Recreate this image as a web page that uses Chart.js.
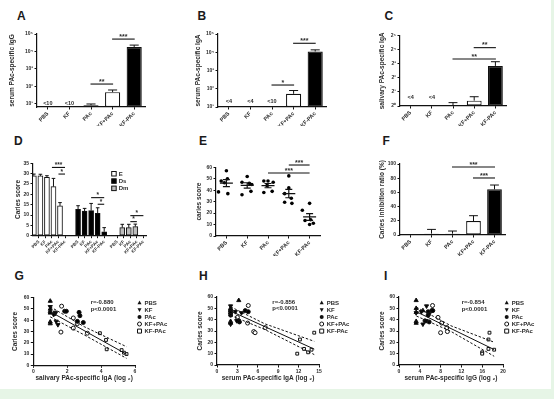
<!DOCTYPE html>
<html><head><meta charset="utf-8">
<script src="https://cdn.jsdelivr.net/npm/chart.js@4.4.1/dist/chart.umd.min.js"></script>
<style>
html,body{margin:0;padding:0;}
body{background:#e6f5e6;width:554px;height:399px;overflow:hidden;}
#wrap{position:relative;width:551px;height:389px;background:#fff;overflow:hidden;}
#wrap canvas{position:absolute;}
.lt{position:absolute;font:bold 12px "Liberation Sans",Arial,sans-serif;color:#1a1a1a;line-height:12px;}
</style></head><body><div id="wrap">
<div class="lt" style="left:17px;top:10px">A</div>
<div class="lt" style="left:197.5px;top:10px">B</div>
<div class="lt" style="left:384.5px;top:10px">C</div>
<div class="lt" style="left:14px;top:135px">D</div>
<div class="lt" style="left:199px;top:135px">E</div>
<div class="lt" style="left:382.5px;top:135px">F</div>
<div class="lt" style="left:14.5px;top:270px">G</div>
<div class="lt" style="left:199px;top:270px">H</div>
<div class="lt" style="left:384px;top:270px">I</div>
</div>
<script>
// ---------------- data ----------------
const groups = ['PBS','KF','PAc','KF+PAc','KF-PAc'];
const barFill = ['#fff','#fff','#fff','#fff','#000'];

const serumIgG = [null,null,8,45,18000];
const serumIgGErr = [0,0,1.4,15,5000];
const serumIgGNote = ['<10','<10','','',''];
const serumIgA = [null,null,null,53,11000];
const serumIgAErr = [0,0,0,27,2500];
const serumIgANote = ['<4','<4','<10','',''];
const salivaryIgALog2 = [null,null,0,0.38,2.85];
const salivaryIgAErr = [0,0,0.24,0.28,0.3];
const salivaryIgANote = ['<4','<4','','',''];

const log10Ticks = [10,100,1000,10000,100000];
const log10TickLabels = ['10\u00b9','10\u00b2','10\u00b3','10\u2074','10\u2075'];
const log2TickLabels = ['2\u2070','2\u00b9','2\u00b2','2\u00b3','2\u2074','2\u2075'];

const sigA = [{a:2,b:3,y:132,t:'**'},{a:3,b:4,y:51000,t:'***'}];
const sigB = [{a:2,b:3,y:160,t:'*'},{a:3,b:4,y:31000,t:'***'}];
const sigC = [{a:2,b:4,y:3.34,t:'**'},{a:3,b:4,y:4.15,t:'**'}];

// D: caries scores by type
const scoreE = [29,28.9,28.2,23.7,14.4];
const scoreEErr = [0.8,0.8,0.8,4,1.6];
const scoreDs = [12.7,11.9,12.1,10.8,1.9];
const scoreDsErr = [1.8,1.3,3.5,2.7,2];
const scoreDm = [3.9,3.9,4.4,0,0];
const scoreDmErr = [1.6,1.6,1.2,0,0];
const slotsE = [0,1,2,3,4], slotsDs = [6,7,8,9,10], slotsDm = [12,13,14,15,16];
const sigD = [{a:2,b:4,y:33,t:'***'},{a:3,b:4,y:29.8,t:'*'},{a:8,b:10,y:18.4,t:'*'},{a:9,b:10,y:15.2,t:'*'},{a:14,b:16,y:9.7,t:'*'},{a:14,b:15,y:6.8,t:'*'}];

// E: individual caries scores
const cariesPBS = [57,50,48,46.5,38.5,37];
const cariesKF = [52,47,46,45,39,36];
const cariesPAc = [48,48,47,44,38,39];
const cariesKFpPAc = [52.5,42,37,33,29.5,28.5];
const cariesKFmPAc = [28.5,22.5,14.2,13.5,11.2,10];
const jitterPBS = [0,0.05,-0.25,-0.1,-0.38,0.07];
const jitterKF = [0,-0.25,0.1,0.22,0.18,-0.25];
const jitterPAc = [-0.2,0,0.25,-0.05,-0.2,0.2];
const jitterKFpPAc = [0,0,-0.2,0.12,-0.2,0.15];
const jitterKFmPAc = [0,-0.35,0.05,-0.22,0.18,0];
const sigE = [{a:2,b:4,y:55,t:'***'},{a:3,b:4,y:62,t:'***'}];

// F
const inhibition = [0,1.9,1.9,19.7,64.3];
const inhibitionErr = [0,6,3.7,7.5,6.1];
const sigF = [{a:2,b:4,y:95.8,t:'***'},{a:3,b:4,y:80.3,t:'***'}];

// G: salivary IgA (log2)
const salPBS = [1,1,1,1,1,1];
const salKF = [1,1.3,1.3,1.2,1.35,1.45];
const salPAc = [1.85,1.95,2.7,2.75,2.95,2.6];
const salKFpPAc = [1.67,2.36,2.6,2.36,1.63,3.19];
const salKFmPAc = [3.93,4.29,4.33,5.21,5.35,5.5];
const fitGx = [1,5.5], fitGy = [47.6,9.8];
const bandGx = [1,3,5.5], bandGhi = [52,34.3,16.5], bandGlo = [43,27,6.2];
const statsG = ['r=-0.880','p<0.0001'];

// H: serum IgA (log2)
const sIgAPBS = [3.2,2,2,2,2,2];
const sIgAKF = [2,2.7,3.6,2,2.9,2];
const sIgAPAc = [4.15,2,4.6,2,3.3,3.1];
const sIgAKFpPAc = [4.6,3.0,4.5,7.1,5.4,5.6];
const sIgAKFmPAc = [14.3,12.2,12.8,13.9,13.4,11.8];
const fitHx = [2,14.3], fitHy = [47.6,14];
const bandHx = [2,7,14.3], bandHhi = [51.4,36.4,20.9], bandHlo = [43.8,31.4,9.2];
const statsH = ['r=-0.856','p<0.0001'];

// I: serum IgG (log2)
const sIgGPBS = [3.3,3.3,4.6,3.3,3.3,3.3];
const sIgGKF = [5.3,4.3,3.3,5.8,5.2,4.6];
const sIgGPAc = [6.3,6.5,5.6,5.6,5.8,5.0];
const sIgGKFpPAc = [6.45,7.5,8.2,9.2,9.3,8.0];
const sIgGKFmPAc = [17.4,17.2,17.2,18.3,16,16];
const fitIx = [3.35,18.3], fitIy = [47,13.6];
const bandIx = [3.35,10,18.3], bandIhi = [51,34.6,20.1], bandIlo = [43.2,29.6,7.7];
const statsI = ['r=-0.854','p<0.0001'];

// ---------------- setup ----------------
const FONT = '"Liberation Sans", Arial, sans-serif';
const LINE = '#111', TXT = '#2b2b2b', TFS = 6.5;
Chart.defaults.font.family = FONT;
Chart.defaults.font.weight = 'bold';
Chart.defaults.color = TXT;
Chart.defaults.animation = false;
Chart.defaults.events = [];
const wrap = document.getElementById('wrap');

function drawMark(ctx, style, x, y, r, filled) {
  ctx.beginPath();
  if (style === 'tri' || style === 'triDown') {
    const s = style === 'tri' ? 1 : -1;
    ctx.moveTo(x, y - s*r*1.1); ctx.lineTo(x + r, y + s*r*0.75); ctx.lineTo(x - r, y + s*r*0.75); ctx.closePath();
  } else if (style === 'rect') {
    ctx.rect(x - r, y - r, 2*r, 2*r);
  } else {
    ctx.arc(x, y, r, 0, Math.PI*2);
  }
  if (filled) { ctx.fillStyle = LINE; ctx.fill(); }
  else { ctx.fillStyle = '#fff'; ctx.fill(); ctx.lineWidth = 1; ctx.strokeStyle = LINE; ctx.stroke(); }
}

const extras = {
  id: 'extras',
  afterDatasetsDraw(chart, args, o) {
    const ctx = chart.ctx, xs = chart.scales.x, ys = chart.scales.y, bx = o.box;
    ctx.save();
    ctx.strokeStyle = LINE; ctx.fillStyle = LINE; ctx.lineWidth = 1;
    chart.data.datasets.forEach((ds, i) => {
      if (!ds.err) return;
      const meta = chart.getDatasetMeta(i);
      meta.data.forEach((el, j) => {
        const e = ds.err[j]; if (!e) return;
        const raw = ds.data[j]; const v = (raw && typeof raw === 'object') ? raw.y : raw;
        if (v === null || v === undefined) return;
        const y0 = ys.getPixelForValue(v);
        const y1 = ys.getPixelForValue(v + e);
        const hw = o.cap || el.width * 0.3;
        ctx.lineWidth = 1;
        ctx.beginPath(); ctx.moveTo(el.x, y0); ctx.lineTo(el.x, y1);
        ctx.moveTo(el.x - hw, y1); ctx.lineTo(el.x + hw, y1); ctx.stroke();
      });
    });
    if (o.meanSem) {
      chart.data.datasets.forEach((ds, i) => {
        const vals = ds.data.map(p => p.y), n = vals.length;
        const m = vals.reduce((a, b) => a + b, 0) / n;
        const sd = Math.sqrt(vals.reduce((a, b) => a + (b - m) * (b - m), 0) / (n - 1));
        const se = sd / Math.sqrt(n);
        const cx = xs.getPixelForValue(i), ym = ys.getPixelForValue(m);
        const yh = ys.getPixelForValue(m + se), yl = ys.getPixelForValue(m - se);
        ctx.lineWidth = 1.2;
        ctx.beginPath();
        ctx.moveTo(cx - o.meanW, ym); ctx.lineTo(cx + o.meanW, ym);
        ctx.moveTo(cx, yh); ctx.lineTo(cx, yl);
        ctx.moveTo(cx - o.semW, yh); ctx.lineTo(cx + o.semW, yh);
        ctx.moveTo(cx - o.semW, yl); ctx.lineTo(cx + o.semW, yl);
        ctx.stroke();
      });
    }
    (o.sig || []).forEach(s => {
      const x1 = xs.getPixelForValue(s.a) - (o.sigExt || 0), x2 = xs.getPixelForValue(s.b) + (o.sigExt || 0);
      const y = ys.getPixelForValue(s.y);
      ctx.lineWidth = 1.1;
      ctx.beginPath(); ctx.moveTo(x1, y); ctx.lineTo(x2, y); ctx.stroke();
      ctx.font = 'bold ' + (o.starSize || 7) + 'px ' + FONT;
      ctx.textAlign = 'center'; ctx.textBaseline = 'alphabetic'; ctx.fillStyle = TXT;
      ctx.fillText(s.t, (x1 + x2) / 2, y - 0.2);
    });
    if (o.notes) {
      ctx.font = 'bold 5.5px ' + FONT; ctx.textAlign = 'center'; ctx.textBaseline = 'alphabetic'; ctx.fillStyle = TXT;
      o.notes.forEach((t, j) => { if (t) ctx.fillText(t, xs.getPixelForValue(j), ys.bottom - o.noteLift); });
    }
    if (o.boxLegend) {
      const L = o.boxLegend;
      ctx.font = 'bold 6px ' + FONT; ctx.textAlign = 'left'; ctx.textBaseline = 'middle';
      chart.data.datasets.forEach((ds, i) => {
        const x = L.x - bx.x, y = L.y - bx.y + i * L.dy;
        ctx.fillStyle = ds.backgroundColor; ctx.fillRect(x, y, 4.5, 4.5);
        ctx.lineWidth = 1; ctx.strokeStyle = LINE; ctx.strokeRect(x, y, 4.5, 4.5);
        ctx.fillStyle = TXT; ctx.fillText(ds.label, x + 7, y + 2.4);
      });
    }
    if (o.markLegend) {
      const L = o.markLegend; let k = 0;
      chart.data.datasets.forEach(ds => {
        if (!ds.mark) return;
        const x = L.x - bx.x, y = L.y - bx.y + k * L.dy;
        drawMark(ctx, ds.mark, x, y, 2, ds.markFilled);
        ctx.font = 'bold 6px ' + FONT; ctx.textAlign = 'left'; ctx.textBaseline = 'middle'; ctx.fillStyle = TXT;
        ctx.fillText(ds.label, x + 5, y + 0.3);
        k++;
      });
    }
    if (o.stats) {
      ctx.font = 'bold 6px ' + FONT; ctx.textAlign = 'left'; ctx.textBaseline = 'middle'; ctx.fillStyle = TXT;
      o.stats.lines.forEach((t, i) => ctx.fillText(t, o.stats.x - bx.x, o.stats.y - bx.y + i * o.stats.dy));
    }
    ctx.restore();
  }
};

function axis(pos, o) {
  const a = {
    position: pos,
    border: {display: true, color: LINE, width: 1.2},
    grid: {display: true, drawOnChartArea: false, drawTicks: true, tickLength: 2.5, tickWidth: 1, tickColor: LINE, offset: false},
    ticks: Object.assign({font: {size: 5, weight: 'bold'}, padding: 1.5, color: TXT, autoSkip: false}, o.ticks || {}),
    title: o.title ? {display: true, text: o.title, font: {size: TFS, weight: 'bold'}, color: TXT, padding: 0} : {display: false},
  };
  ['type','min','max','afterBuildTicks','offset'].forEach(k => { if (o[k] !== undefined) a[k] = o[k]; });
  return a;
}
const rotX = {font: {size: 5.5, weight: 'bold'}, minRotation: 45, maxRotation: 45, padding: 1};

function panel(box, area, cfg, o) {
  const c = document.createElement('canvas');
  c.width = box.w; c.height = box.h;
  c.style.left = box.x + 'px'; c.style.top = box.y + 'px';
  c.style.width = box.w + 'px'; c.style.height = box.h + 'px';
  wrap.appendChild(c);
  const lh = TFS * 1.2;
  const padL = o.yTitleX - box.x - lh / 2;
  const yW = area.l - box.x - padL;
  const padT = area.t - box.y, padR = box.x + box.w - area.r;
  const xH = o.xTitleY ? (o.xTitleY + lh / 2 - area.b) : (box.y + box.h - area.b - 2);
  const padB = box.y + box.h - area.b - xH;
  cfg.options = cfg.options || {};
  cfg.options.responsive = false;
  cfg.options.maintainAspectRatio = false;
  cfg.options.devicePixelRatio = 1;
  cfg.options.layout = {padding: {left: padL, top: padT, right: padR, bottom: padB}};
  cfg.options.scales.y.afterFit = s => { s.width = yW; };
  cfg.options.scales.x.afterFit = s => { s.height = xH; };
  cfg.options.plugins = Object.assign({legend: {display: false}, tooltip: {enabled: false}}, cfg.options.plugins || {});
  cfg.options.plugins.extras = Object.assign({box: box}, cfg.options.plugins.extras || {});
  cfg.plugins = [extras];
  return new Chart(c, cfg);
}

function barPanel(box, area, o) {
  return panel(box, area, {
    type: 'bar',
    data: {labels: groups, datasets: [{data: o.values, err: o.err, backgroundColor: barFill, borderColor: LINE, borderWidth: 1.2, borderSkipped: false, barPercentage: 0.7, categoryPercentage: 1}]},
    options: {
      scales: {
        x: axis('bottom', {ticks: rotX}),
        y: o.y,
      },
      plugins: {extras: {sig: o.sig, notes: o.notes, noteLift: o.noteLift, sigExt: 0.5}},
    },
  }, {yTitleX: o.yTitleX});
}

barPanel({x: 0, y: 0, w: 185, h: 128}, {l: 37, t: 34, r: 145, b: 107}, {
  values: serumIgG, err: serumIgGErr, sig: sigA, notes: serumIgGNote, noteLift: 2, yTitleX: 12.5,
  y: axis('left', {type: 'logarithmic', min: Math.pow(10, 0.8), max: 1e5, title: 'serum PAc-specific IgG',
    afterBuildTicks: s => { s.ticks = log10Ticks.map(v => ({value: v})); },
    ticks: {callback: (v, i) => log10TickLabels[i]}}),
});
barPanel({x: 185, y: 0, w: 185, h: 128}, {l: 218, t: 34, r: 326, b: 107}, {
  values: serumIgA, err: serumIgAErr, sig: sigB, notes: serumIgANote, noteLift: 4.3, yTitleX: 198.5,
  y: axis('left', {type: 'logarithmic', min: 10, max: 1e5, title: 'serum PAc-specific IgA',
    afterBuildTicks: s => { s.ticks = log10Ticks.map(v => ({value: v})); },
    ticks: {callback: (v, i) => log10TickLabels[i]}}),
});
barPanel({x: 370, y: 0, w: 181, h: 128}, {l: 400, t: 35.7, r: 506, b: 106}, {
  values: salivaryIgALog2, err: salivaryIgAErr, sig: sigC, notes: salivaryIgANote, noteLift: 7, yTitleX: 382,
  y: axis('left', {min: 0, max: 5, title: 'salivary PAc-specific IgA',
    ticks: {stepSize: 1, callback: (v) => log2TickLabels[v]}}),
});

panel({x: 0, y: 128, w: 185, h: 130}, {l: 33, t: 163.3, r: 146, b: 235.7}, {
  type: 'bar',
  data: {datasets: [
    {label: 'E', data: slotsE.map((s, i) => ({x: s, y: scoreE[i]})), err: scoreEErr, backgroundColor: '#fff', borderColor: LINE, borderWidth: 1, borderSkipped: false, barThickness: 5},
    {label: 'Ds', data: slotsDs.map((s, i) => ({x: s, y: scoreDs[i]})), err: scoreDsErr, backgroundColor: '#000', borderColor: LINE, borderWidth: 1, borderSkipped: false, barThickness: 5},
    {label: 'Dm', data: slotsDm.map((s, i) => ({x: s, y: scoreDm[i]})), err: scoreDmErr, backgroundColor: '#bdbdbd', borderColor: LINE, borderWidth: 1, borderSkipped: false, barThickness: 5},
  ]},
  options: {
    scales: {
      x: axis('bottom', {type: 'linear', min: -0.9, max: 16.4, offset: false,
        afterBuildTicks: s => { s.ticks = slotsE.concat(slotsDs, slotsDm).map(v => ({value: v})); },
        ticks: {font: {size: 4.5, weight: 'bold'}, minRotation: 45, maxRotation: 45, padding: 1, callback: (v, i) => groups[i % 5]}}),
      y: axis('left', {min: 0, max: 35, title: 'Caries score', ticks: {stepSize: 5}}),
    },
    plugins: {extras: {sig: sigD, cap: 1.8, starSize: 6.5, boxLegend: {x: 111.7, y: 171.5, dy: 7.3}}},
  },
}, {yTitleX: 18.3});

const eSets = [cariesPBS, cariesKF, cariesPAc, cariesKFpPAc, cariesKFmPAc];
const eJit = [jitterPBS, jitterKF, jitterPAc, jitterKFpPAc, jitterKFmPAc];
panel({x: 185, y: 128, w: 185, h: 130}, {l: 216, t: 167.3, r: 320, b: 236}, {
  type: 'scatter',
  data: {datasets: eSets.map((vals, g) => ({data: vals.map((v, k) => ({x: g + eJit[g][k], y: v})), pointRadius: 1.8, pointBackgroundColor: '#000', pointBorderWidth: 0}))},
  options: {
    scales: {
      x: axis('bottom', {type: 'linear', min: -0.5, max: 4.5,
        afterBuildTicks: s => { s.ticks = groups.map((g, i) => ({value: i})); },
        ticks: Object.assign({}, rotX, {callback: (v, i) => groups[i]})}),
      y: axis('left', {min: 0, max: 60, title: 'caries score', ticks: {stepSize: 10}}),
    },
    plugins: {extras: {meanSem: true, meanW: 6.5, semW: 3.5, sig: sigE}},
  },
}, {yTitleX: 199});

barPanel({x: 370, y: 128, w: 181, h: 130}, {l: 400, t: 164, r: 505, b: 235}, {
  values: inhibition, err: inhibitionErr, sig: sigF, yTitleX: 382,
  y: axis('left', {min: 0, max: 100, title: 'Caries inhibition ratio (%)', ticks: {stepSize: 20}}),
});

function scatterPanel(box, area, o) {
  const xsets = o.xs;
  const marks = [['tri', true, 'triangle', 0, '#000'], ['triDown', true, 'triangle', 180, '#000'], ['circ', true, 'circle', 0, '#000'], ['circ', false, 'circle', 0, '#fff'], ['rect', false, 'rect', 0, '#fff']];
  const pts = eSets.map((vals, g) => ({
    label: groups[g], mark: marks[g][0], markFilled: marks[g][1],
    data: vals.map((v, k) => ({x: xsets[g][k], y: v})),
    pointStyle: marks[g][2], rotation: marks[g][3], pointBackgroundColor: marks[g][4], pointBorderColor: LINE,
    pointBorderWidth: 1, pointRadius: g < 2 ? 2.4 : 2, order: 2,
  }));
  const lines = [
    {data: o.fitX.map((x, i) => ({x, y: o.fitY[i]})), showLine: true, pointRadius: 0, borderColor: LINE, borderWidth: 1, order: 1},
    {data: o.bandX.map((x, i) => ({x, y: o.bandHi[i]})), showLine: true, pointRadius: 0, borderColor: LINE, borderWidth: 1, borderDash: [2.5, 1.8], order: 1},
    {data: o.bandX.map((x, i) => ({x, y: o.bandLo[i]})), showLine: true, pointRadius: 0, borderColor: LINE, borderWidth: 1, borderDash: [2.5, 1.8], order: 1},
  ];
  return panel(box, area, {
    type: 'scatter',
    data: {datasets: pts.concat(lines)},
    options: {
      scales: {
        x: axis('bottom', {min: 0, max: o.xmax, title: o.xTitle, ticks: {stepSize: o.xstep, maxRotation: 0, padding: 1}}),
        y: axis('left', {min: 0, max: 60, title: 'Caries score', ticks: {stepSize: 10}}),
      },
      plugins: {extras: {markLegend: o.legend, stats: o.stats}},
    },
  }, {yTitleX: o.yTitleX, xTitleY: 378});
}

scatterPanel({x: 0, y: 258, w: 185, h: 131}, {l: 33.3, t: 297.7, r: 135, b: 365.3}, {
  xs: [salPBS, salKF, salPAc, salKFpPAc, salKFmPAc], fitX: fitGx, fitY: fitGy, bandX: bandGx, bandHi: bandGhi, bandLo: bandGlo,
  xmax: 6, xstep: 2, xTitle: 'salivary PAc-specific IgA (log \u2082)', yTitleX: 15,
  legend: {x: 139.5, y: 302.7, dy: 7.1}, stats: {x: 90.7, y: 302.7, dy: 6.5, lines: statsG},
});
scatterPanel({x: 185, y: 258, w: 185, h: 131}, {l: 217, t: 297, r: 319, b: 365}, {
  xs: [sIgAPBS, sIgAKF, sIgAPAc, sIgAKFpPAc, sIgAKFmPAc], fitX: fitHx, fitY: fitHy, bandX: bandHx, bandHi: bandHhi, bandLo: bandHlo,
  xmax: 15, xstep: 3, xTitle: 'serum PAc-specific IgA (log \u2082)', yTitleX: 200,
  legend: {x: 321.7, y: 302.7, dy: 7.1}, stats: {x: 272.3, y: 302.3, dy: 6.5, lines: statsH},
});
scatterPanel({x: 370, y: 258, w: 181, h: 131}, {l: 399, t: 297, r: 503, b: 365}, {
  xs: [sIgGPBS, sIgGKF, sIgGPAc, sIgGKFpPAc, sIgGKFmPAc], fitX: fitIx, fitY: fitIy, bandX: bandIx, bandHi: bandIhi, bandLo: bandIlo,
  xmax: 20, xstep: 4, xTitle: 'serum PAc-specific IgG (log \u2082)', yTitleX: 382.7,
  legend: {x: 506.7, y: 302.7, dy: 7.1}, stats: {x: 461.7, y: 302.7, dy: 6.5, lines: statsI},
});
</script></body></html>
